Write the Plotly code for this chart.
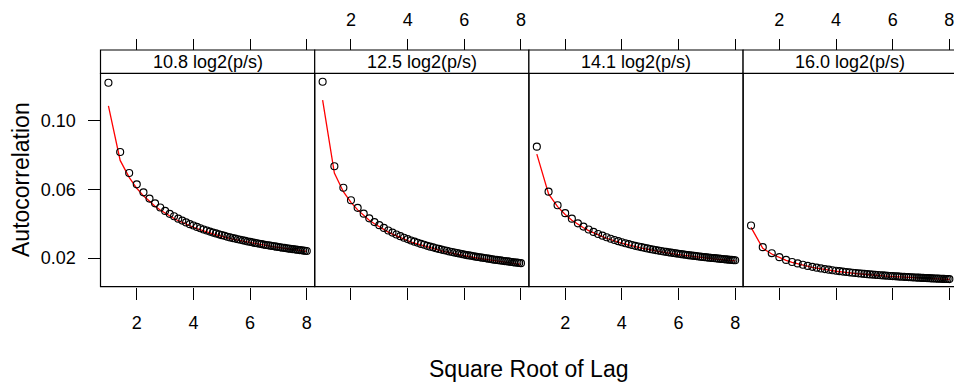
import plotly.graph_objects as go

# ---------------- data ----------------
lags = list(range(1, 65))
sqrt_lag = [l ** 0.5 for l in lags]

panel_labels = ["10.8 log2(p/s)", "12.5 log2(p/s)", "14.1 log2(p/s)", "16.0 log2(p/s)"]

acf_10_8 = [0.1221, 0.0818, 0.0696, 0.0630, 0.0583, 0.0547, 0.0519, 0.0495,
            0.0475, 0.0458, 0.0444, 0.0430, 0.0419, 0.0408, 0.0398, 0.0390,
            0.0382, 0.0374, 0.0367, 0.0361, 0.0355, 0.0349, 0.0344, 0.0339,
            0.0334, 0.0330, 0.0325, 0.0321, 0.0317, 0.0314, 0.0310, 0.0307,
            0.0304, 0.0301, 0.0297, 0.0295, 0.0292, 0.0289, 0.0287, 0.0284,
            0.0282, 0.0279, 0.0277, 0.0275, 0.0273, 0.0271, 0.0269, 0.0267,
            0.0265, 0.0263, 0.0261, 0.0260, 0.0258, 0.0256, 0.0255, 0.0253,
            0.0252, 0.0250, 0.0249, 0.0247, 0.0246, 0.0244, 0.0243, 0.0242]
fit_10_8 = [0.1087, 0.0769, 0.0670, 0.0607, 0.0563, 0.0529, 0.0502, 0.0480,
            0.0461, 0.0445, 0.0431, 0.0418, 0.0407, 0.0397, 0.0388, 0.0380,
            0.0372, 0.0365, 0.0359, 0.0353, 0.0347, 0.0341, 0.0336, 0.0332,
            0.0327, 0.0323, 0.0319, 0.0315, 0.0311, 0.0308, 0.0305, 0.0301,
            0.0298, 0.0296, 0.0293, 0.0290, 0.0287, 0.0285, 0.0282, 0.0280,
            0.0278, 0.0276, 0.0273, 0.0271, 0.0269, 0.0267, 0.0266, 0.0264,
            0.0262, 0.0260, 0.0259, 0.0257, 0.0255, 0.0254, 0.0252, 0.0251,
            0.0249, 0.0248, 0.0246, 0.0245, 0.0244, 0.0242, 0.0241, 0.0240]

acf_12_5 = [0.1227, 0.0735, 0.0610, 0.0537, 0.0493, 0.0459, 0.0432, 0.0410,
            0.0392, 0.0376, 0.0361, 0.0349, 0.0338, 0.0328, 0.0319, 0.0311,
            0.0303, 0.0296, 0.0290, 0.0283, 0.0278, 0.0272, 0.0267, 0.0263,
            0.0258, 0.0254, 0.0250, 0.0246, 0.0243, 0.0239, 0.0236, 0.0233,
            0.0230, 0.0227, 0.0224, 0.0221, 0.0218, 0.0216, 0.0214, 0.0211,
            0.0209, 0.0207, 0.0205, 0.0203, 0.0201, 0.0199, 0.0197, 0.0195,
            0.0193, 0.0191, 0.0190, 0.0188, 0.0187, 0.0185, 0.0183, 0.0182,
            0.0181, 0.0179, 0.0178, 0.0176, 0.0175, 0.0174, 0.0172, 0.0171]
fit_12_5 = [0.1120, 0.0695, 0.0587, 0.0525, 0.0481, 0.0448, 0.0421, 0.0400,
            0.0382, 0.0366, 0.0352, 0.0340, 0.0329, 0.0319, 0.0310, 0.0302,
            0.0294, 0.0288, 0.0282, 0.0275, 0.0270, 0.0264, 0.0259, 0.0255,
            0.0250, 0.0246, 0.0242, 0.0238, 0.0235, 0.0231, 0.0228, 0.0226,
            0.0223, 0.0220, 0.0217, 0.0214, 0.0211, 0.0209, 0.0207, 0.0204,
            0.0202, 0.0200, 0.0198, 0.0196, 0.0194, 0.0192, 0.0190, 0.0188,
            0.0186, 0.0184, 0.0183, 0.0181, 0.0180, 0.0178, 0.0176, 0.0175,
            0.0174, 0.0172, 0.0171, 0.0169, 0.0168, 0.0167, 0.0165, 0.0164]

acf_14_1 = [0.0849, 0.0587, 0.0508, 0.0462, 0.0430, 0.0403, 0.0384, 0.0367,
            0.0353, 0.0341, 0.0331, 0.0322, 0.0313, 0.0306, 0.0299, 0.0293,
            0.0287, 0.0282, 0.0277, 0.0272, 0.0268, 0.0264, 0.0260, 0.0257,
            0.0253, 0.0250, 0.0247, 0.0244, 0.0242, 0.0239, 0.0237, 0.0234,
            0.0232, 0.0230, 0.0228, 0.0226, 0.0224, 0.0222, 0.0220, 0.0218,
            0.0216, 0.0215, 0.0213, 0.0212, 0.0210, 0.0209, 0.0207, 0.0206,
            0.0205, 0.0203, 0.0202, 0.0201, 0.0200, 0.0199, 0.0197, 0.0196,
            0.0195, 0.0194, 0.0193, 0.0192, 0.0191, 0.0190, 0.0189, 0.0188]
fit_14_1 = [0.0806, 0.0574, 0.0500, 0.0454, 0.0421, 0.0397, 0.0377, 0.0360,
            0.0346, 0.0335, 0.0325, 0.0316, 0.0307, 0.0300, 0.0293, 0.0287,
            0.0281, 0.0276, 0.0271, 0.0266, 0.0263, 0.0259, 0.0255, 0.0252,
            0.0248, 0.0245, 0.0242, 0.0239, 0.0237, 0.0234, 0.0232, 0.0229,
            0.0227, 0.0225, 0.0223, 0.0221, 0.0219, 0.0217, 0.0215, 0.0213,
            0.0211, 0.0210, 0.0208, 0.0207, 0.0205, 0.0204, 0.0202, 0.0201,
            0.0200, 0.0198, 0.0197, 0.0196, 0.0195, 0.0194, 0.0193, 0.0192,
            0.0191, 0.0190, 0.0189, 0.0188, 0.0187, 0.0186, 0.0185, 0.0184]

acf_16_0 = [0.0390, 0.0264, 0.0229, 0.0206, 0.0190, 0.0178, 0.01695, 0.01618,
            0.01552, 0.01496, 0.01447, 0.01404, 0.01365, 0.01330, 0.01298, 0.01269,
            0.01243, 0.01218, 0.01195, 0.01174, 0.01154, 0.01135, 0.01118, 0.01101,
            0.01086, 0.01071, 0.01057, 0.01044, 0.01031, 0.01019, 0.01007, 0.00996,
            0.00985, 0.00975, 0.00965, 0.00956, 0.00947, 0.00938, 0.00929, 0.00921,
            0.00913, 0.00906, 0.00898, 0.00891, 0.00884, 0.00877, 0.00871, 0.00864,
            0.00858, 0.00852, 0.00846, 0.00841, 0.00835, 0.00829, 0.00824, 0.00819,
            0.00814, 0.00809, 0.00804, 0.00799, 0.00795, 0.00790, 0.00786, 0.00782]
fit_16_0 = [0.0379, 0.0258, 0.0224, 0.0202, 0.0187, 0.0175, 0.0166, 0.0158,
            0.0152, 0.0146, 0.0142, 0.0137, 0.0134, 0.0130, 0.0127, 0.0124,
            0.0121, 0.0119, 0.0117, 0.0115, 0.0113, 0.0111, 0.0109, 0.0108,
            0.0106, 0.0105, 0.0103, 0.0102, 0.0101, 0.0099, 0.0098, 0.0097,
            0.0096, 0.0095, 0.0094, 0.0093, 0.0092, 0.0091, 0.0091, 0.0090,
            0.0089, 0.0088, 0.0088, 0.0087, 0.0086, 0.0085, 0.0085, 0.0084,
            0.0084, 0.0083, 0.0082, 0.0082, 0.0081, 0.0081, 0.0080, 0.0080,
            0.0079, 0.0079, 0.0078, 0.0078, 0.0077, 0.0077, 0.0076, 0.0076]

acf_series = [acf_10_8, acf_12_5, acf_14_1, acf_16_0]
fit_series = [fit_10_8, fit_12_5, fit_14_1, fit_16_0]

x_ticks = [2, 4, 6, 8]
y_ticks = [0.02, 0.06, 0.10]
y_tick_text = ["0.02", "0.06", "0.10"]

# ---------------- layout geometry (pixels) ----------------
W, H = 954, 387
FONT = "Liberation Sans, Arial, Helvetica, sans-serif"
PL = [100.5, 314.7, 528.9, 743.1]
PW = 214.2
P_TOP, P_BOT, S_TOP = 73.3, 286.7, 50.0
XR = [0.72, 8.28]
YR = [0.0034, 0.1276]


def fx(p):
    return p / W


def fy(p):
    return 1 - p / H


fig = go.Figure()
layout = dict(
    width=W, height=H, margin=dict(l=0, r=0, t=0, b=0),
    paper_bgcolor="white", plot_bgcolor="white", showlegend=False,
    font=dict(family=FONT, color="black"),
)
shapes, annotations = [], []

for i in range(4):
    xn = "" if i == 0 else str(i + 1)
    left = PL[i]
    right = min(PL[i] + PW, W)
    xr1 = XR[0] + (XR[1] - XR[0]) * (right - left) / PW
    dom = [fx(left), fx(right)]

    fig.add_trace(go.Scatter(
        x=sqrt_lag, y=fit_series[i], mode="lines",
        line=dict(color="#ff0000", width=1.3),
        xaxis="x" + xn, yaxis="y" + xn, hoverinfo="skip"))
    fig.add_trace(go.Scatter(
        x=sqrt_lag, y=acf_series[i], mode="markers",
        marker=dict(symbol="circle-open", size=7, color="#000000",
                    line=dict(width=1.15, color="#000000")),
        xaxis="x" + xn, yaxis="y" + xn))

    # bottom axis
    layout["xaxis" + xn] = dict(
        domain=dom, range=[XR[0], xr1], anchor="y" + xn,
        showgrid=False, zeroline=False, showline=False,
        ticks="outside", ticklen=12, tickwidth=1, tickcolor="black",
        tickvals=x_ticks, showticklabels=(i % 2 == 0),
        tickfont=dict(size=18, family=FONT), ticklabelstandoff=8,
        ticklabeloverflow="allow")
    # top axis above the strip
    tn = str(i + 5)
    layout["xaxis" + tn] = dict(
        domain=dom, range=[XR[0], xr1], anchor="free", position=fy(S_TOP),
        overlaying="x" + xn, side="top",
        showgrid=False, zeroline=False, showline=False,
        ticks="outside", ticklen=11, tickwidth=1, tickcolor="black",
        tickvals=x_ticks, showticklabels=(i % 2 == 1),
        tickfont=dict(size=18, family=FONT), ticklabelstandoff=6,
        ticklabeloverflow="allow")
    fig.add_trace(go.Scatter(x=[None], y=[None], xaxis="x" + tn, yaxis="y" + xn,
                             mode="markers", hoverinfo="skip"))

    if i == 0:
        layout["yaxis"] = dict(
            domain=[fy(P_BOT), fy(P_TOP)], range=YR, anchor="x",
            showgrid=False, zeroline=False, showline=False,
            ticks="outside", ticklen=12, tickwidth=1, tickcolor="black",
            tickvals=y_ticks, ticktext=y_tick_text,
            tickfont=dict(size=18, family=FONT), ticklabelstandoff=8)
    else:
        layout["yaxis" + xn] = dict(
            domain=[fy(P_BOT), fy(P_TOP)], range=YR, anchor="x" + xn,
            matches="y", showgrid=False, zeroline=False, showline=False,
            ticks="", showticklabels=False)

    # panel border and strip
    shapes.append(dict(type="rect", xref="paper", yref="paper",
                       x0=fx(PL[i]), x1=fx(PL[i] + PW), y0=fy(P_BOT), y1=fy(P_TOP),
                       line=dict(color="black", width=1.2), fillcolor="rgba(0,0,0,0)"))
    shapes.append(dict(type="rect", xref="paper", yref="paper",
                       x0=fx(PL[i]), x1=fx(PL[i] + PW), y0=fy(P_TOP), y1=fy(S_TOP),
                       line=dict(color="black", width=1.2), fillcolor="white"))
    annotations.append(dict(text=panel_labels[i], xref="paper", yref="paper",
                            x=fx(PL[i] + PW / 2), y=fy((S_TOP + P_TOP) / 2),
                            xanchor="center", yanchor="middle", showarrow=False,
                            font=dict(size=18, family=FONT, color="black")))

annotations.append(dict(text="Square Root of Lag", xref="paper", yref="paper",
                        x=fx((PL[0] + PL[3] + PW) / 2), y=fy(369),
                        xanchor="center", yanchor="middle", showarrow=False,
                        font=dict(size=23, family=FONT, color="black")))
annotations.append(dict(text="Autocorrelation", xref="paper", yref="paper",
                        x=fx(21), y=fy((P_TOP + P_BOT) / 2), textangle=-90,
                        xanchor="center", yanchor="middle", showarrow=False,
                        font=dict(size=23, family=FONT, color="black")))

layout["shapes"] = shapes
layout["annotations"] = annotations
fig.update_layout(**layout)
fig.write_html("out.html")
